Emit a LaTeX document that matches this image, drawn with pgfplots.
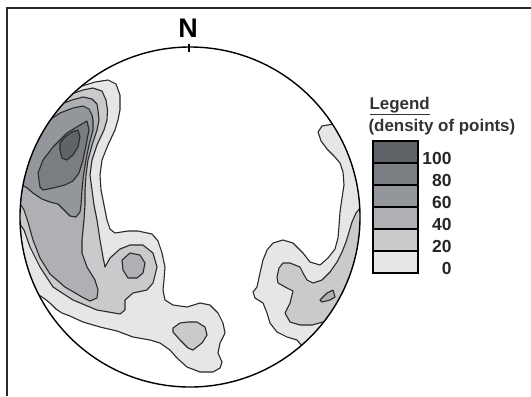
\documentclass[border=0pt]{standalone}
\usepackage{fontspec}
\setmainfont{Liberation Sans}
\usepackage{pgfplots}
\pgfplotsset{compat=1.18}
\definecolor{cA}{HTML}{E6E6E6}
\definecolor{cB}{HTML}{C9CACC}
\definecolor{cC}{HTML}{AEB0B3}
\definecolor{cD}{HTML}{93979B}
\definecolor{cE}{HTML}{7A7E83}
\definecolor{cF}{HTML}{606469}
\definecolor{ln}{HTML}{2A2A2A}
\tikzset{cont/.style={draw=ln,line width=1.1bp,line join=round},
  lab/.style={anchor=east,font=\fontsize{17.5}{20}\selectfont\bfseries,text=black!85}}
\begin{document}
\begin{tikzpicture}
\begin{axis}[x=1bp,y=1bp,y dir=reverse,xmin=0,xmax=531,ymin=0,ymax=396,hide axis,clip=true]
\fill[white] (axis cs:0,0) rectangle (axis cs:531,396);
% level 0 (left)
\addplot[cont,fill=cA] coordinates {(45,50) (82,86) (95,82) (108,80) (116,84) (120,95) (120,110) (118,120) (115,130) (108,145) (102,160) (100,175) (101,190) (104,205) (107,220) (110,229) (115,233) (128,231) (138,231) (152,234) (158,241) (162,253) (165,267) (164,280) (163,290) (165,300) (173,305) (187,307) (200,303) (210,305) (218,313) (223,323) (225,333) (220,343) (218,353) (222,362) (220,368) (213,372) (200,372) (187,367) (177,358) (170,350) (160,343) (150,340) (133,337) (117,331) (100,327) (83,322) (70,316) (62,313) (56,309) (51,304) (45,299) (39,295) (0,310) (0,60)} -- cycle;
% level 0 (right)
\addplot[cont,fill=cA] coordinates {(380,100) (334,124) (328,125) (322,126) (318,132) (321,141) (327,149) (334,156) (340,163) (343,172) (344,185) (342,198) (340,212) (339,226) (338,238) (335,249) (328,258) (320,265) (310,262) (303,253) (293,243) (283,240) (273,243) (267,250) (263,260) (260,273) (257,287) (253,292) (255,298) (263,303) (267,313) (270,323) (277,332) (287,337) (297,340) (302,346) (330,390) (420,300) (420,110)} -- cycle;
% level 20
\addplot[cont,fill=cB] coordinates {(30,70) (74,93) (83,90) (93,88) (102,91) (106,100) (107.5,110) (107,120) (104,130) (97,145) (92,160) (90,175) (92,190) (94,205) (97,220) (100,240) (103,257) (105,267) (110,258) (120,249) (130,245) (143,245) (153,253) (157,267) (153,283) (147,290) (133,293) (125,300) (125,310) (120,314) (97,310) (73,300) (53,287) (40,267) (30,247) (24,230) (20,224) (0,230) (0,70)} -- cycle;
\addplot[cont,fill=cB] coordinates {(173,328) (180,323) (188,322) (197,322) (205,327) (207,335) (202,343) (193,350) (188,348) (180,340) (173,332)} -- cycle;
\addplot[cont,fill=cB] coordinates {(420,200) (360,208) (356,213) (352,222) (349,232) (346,242) (342,252) (337,262) (330,272) (322,280) (313,283) (307,280) (303,273) (300,267) (290,263) (283,263) (279,268) (277,277) (278,283) (287,288) (293,291) (290,303) (285,313) (290,322) (300,325) (312,325) (323,322) (380,360) (420,300)} -- cycle;
% level 40
\addplot[cont,fill=cC] coordinates {(20,90) (64,103) (72,100) (83,97) (92,99) (97,104) (98,110) (99,120) (97,130) (92,145) (88,160) (86,175) (85,190) (85,205) (84,220) (82,240) (82,253) (87,267) (95,280) (98,290) (97,298) (90,301) (82,297) (65,287) (50,274) (40,258) (33,240) (28,222) (24,210) (21,205) (0,205) (0,100)} -- cycle;
\addplot[cont,fill=cC] coordinates {(122,260) (130,253) (140,255) (145,263) (143,273) (137,278) (128,278) (123,270)} -- cycle;
\addplot[cont,fill=cC] coordinates {(320,300) (327,293) (333,290) (335,297) (330,300) (322,302)} -- cycle;
% level 60
\addplot[cont,fill=cD] coordinates {(10,120) (51,119) (60,113) (73,108) (83,106) (89,109) (92,115) (93,120) (93,130) (89,145) (86,160) (83.5,175) (82,190) (81,205) (80,212) (76,217) (70,216) (64,210) (58,204) (50,202) (42,199) (33,193) (26,187) (22.8,186) (0,186) (0,125)} -- cycle;
% level 80
\addplot[cont,fill=cE] coordinates {(40,187) (38,173) (43,160) (53,147) (67,133) (80,125) (87,121) (89,130) (86,145) (83,160) (79,173) (73,181) (65,185) (53,188) (43,190)} -- cycle;
% level 100
\addplot[cont,fill=cF] coordinates {(60,150) (60,143) (65,137) (72,132) (78,130) (80,137) (78,147) (73,155) (67,160) (62,158)} -- cycle;
% mask outside the net
\fill[white,even odd rule] (axis cs:0,0) rectangle (axis cs:531,396) (axis cs:190,217) circle[radius=170bp];
\draw[black,line width=1.4bp] (axis cs:190,217) circle[radius=170bp];
\draw[black,line width=1.3bp] (axis cs:189,44) -- (axis cs:189,52);
\node[font=\fontsize{27}{30}\selectfont\bfseries] at (axis cs:188,28) {N};
\draw[ln,line width=2bp] (axis cs:7,396) -- (axis cs:7,8) -- (axis cs:531,8);
% legend
\node[anchor=west,font=\fontsize{17}{20}\selectfont\bfseries,text=black!80] at (axis cs:366,106) {\underline{Legend}};
\node[anchor=west,font=\fontsize{17}{20}\selectfont\bfseries,text=black!80] at (axis cs:365,127) {(density of points)};
\filldraw[fill=cF,draw=black,line width=1.5bp] (axis cs:373,141) rectangle (axis cs:418,163);
\filldraw[fill=cE,draw=black,line width=1.5bp] (axis cs:373,163) rectangle (axis cs:418,185);
\filldraw[fill=cD,draw=black,line width=1.5bp] (axis cs:373,185) rectangle (axis cs:418,207);
\filldraw[fill=cC,draw=black,line width=1.5bp] (axis cs:373,207) rectangle (axis cs:418,229);
\filldraw[fill=cB,draw=black,line width=1.5bp] (axis cs:373,229) rectangle (axis cs:418,251);
\filldraw[fill=cA,draw=black,line width=1.5bp] (axis cs:373,251) rectangle (axis cs:418,273);
\node[lab] at (axis cs:455,158) {100};
\node[lab] at (axis cs:455,180) {80};
\node[lab] at (axis cs:455,202) {60};
\node[lab] at (axis cs:455,224) {40};
\node[lab] at (axis cs:455,246) {20};
\node[lab] at (axis cs:455,268) {0};
\end{axis}
\end{tikzpicture}
\end{document}
